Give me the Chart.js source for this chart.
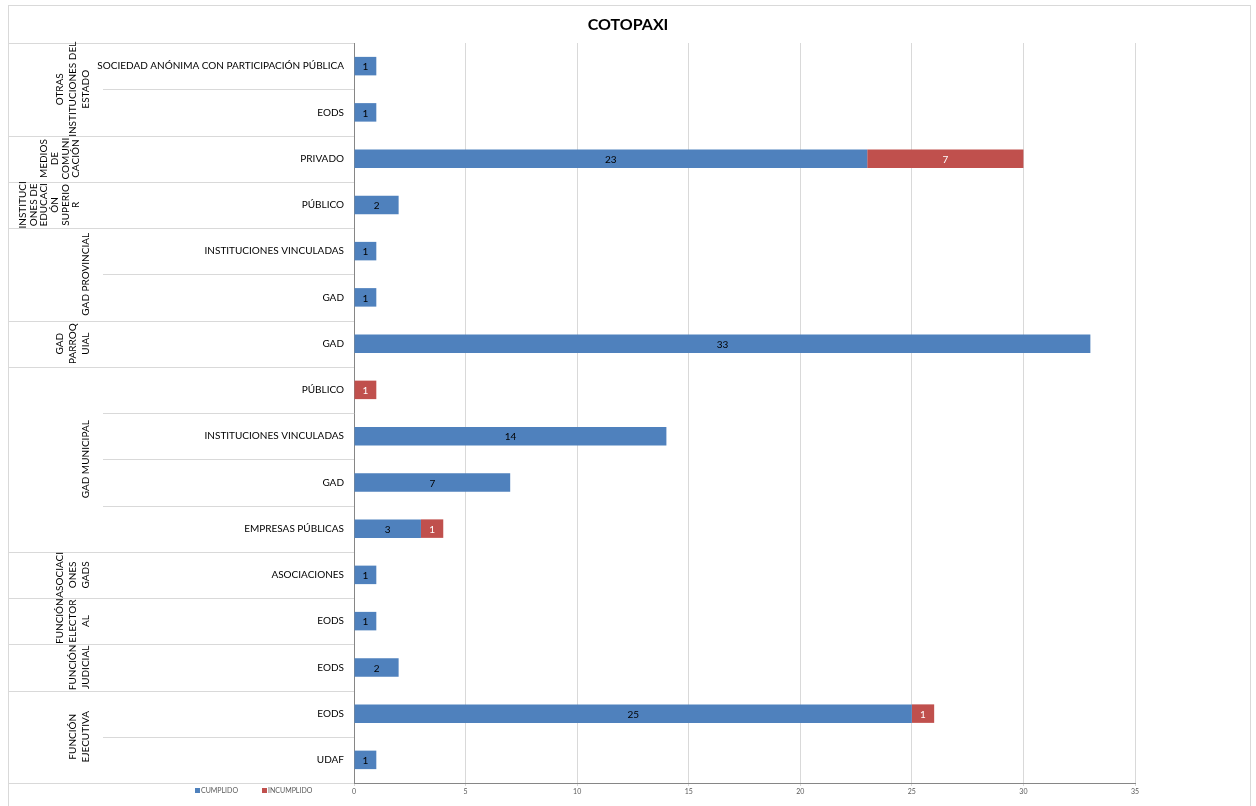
<!DOCTYPE html>
<html>
<head>
<meta charset="utf-8">
<script src="https://cdn.jsdelivr.net/npm/chart.js@4"></script>
<style>
  html, body { margin: 0; padding: 0; background: #fff; }
  #wrap { width: 1256px; height: 806px; }
</style>
</head>
<body>
<div id="wrap"><canvas id="chart" width="1256" height="806"></canvas></div>
<script>
// data, top row first
var groupOfRow = [
    'OTRAS\nINSTITUCIONES DEL\nESTADO', 'OTRAS\nINSTITUCIONES DEL\nESTADO',
    'MEDIOS\nDE\nCOMUNI\nCACIÓN',
    'INSTITUCI\nONES DE\nEDUCACI\nÓN\nSUPERIO\nR',
    'GAD PROVINCIAL', 'GAD PROVINCIAL',
    'GAD\nPARROQ\nUIAL',
    'GAD MUNICIPAL', 'GAD MUNICIPAL', 'GAD MUNICIPAL', 'GAD MUNICIPAL',
    'ASOCIACI\nONES\nGADS',
    'FUNCIÓN\nELECTOR\nAL',
    'FUNCIÓN\nJUDICIAL',
    'FUNCIÓN\nEJECUTIVA', 'FUNCIÓN\nEJECUTIVA'
];
var subcategories = [
    'SOCIEDAD ANÓNIMA CON PARTICIPACIÓN PÚBLICA', 'EODS',
    'PRIVADO',
    'PÚBLICO',
    'INSTITUCIONES VINCULADAS', 'GAD',
    'GAD',
    'PÚBLICO', 'INSTITUCIONES VINCULADAS', 'GAD', 'EMPRESAS PÚBLICAS',
    'ASOCIACIONES',
    'EODS',
    'EODS',
    'EODS', 'UDAF'
];
var cumplido   = [1, 1, 23, 2, 1, 1, 33, 0, 14, 7, 3, 1, 1, 2, 25, 1];
var incumplido = [0, 0,  7, 0, 0, 0,  0, 1,  0, 0, 1, 0, 0, 0,  1, 0];
var seriesNames = ['CUMPLIDO', 'INCUMPLIDO'];
var chartTitle = 'COTOPAXI';
var xMin = 0, xMax = 35, xStep = 5;

var BLUE = '#4F81BD';
var RED = '#C0504D';
var FONT = "Lato, 'Liberation Sans', Arial, sans-serif";

var frame = {
    id: 'frame',
    beforeDraw: function(chart) {
        var ctx = chart.ctx;
        ctx.save();
        ctx.fillStyle = '#fff';
        ctx.fillRect(0, 0, chart.width, chart.height);
        ctx.strokeStyle = '#d9d9d9';
        ctx.lineWidth = 1;
        ctx.strokeRect(8.5, 5.5, 1242, 830);
        // title centred on the whole frame
        ctx.fillStyle = '#000';
        ctx.font = 'bold 16px ' + FONT;
        ctx.textAlign = 'center';
        ctx.textBaseline = 'middle';
        ctx.fillText(chartTitle, 628, 25);
        ctx.restore();
    }
};

// multi-level category column on the left
var groupAxis = {
    id: 'groupAxis',
    afterDraw: function(chart) {
        var ctx = chart.ctx;
        var y = chart.scales.y;
        var area = chart.chartArea;
        var half = (y.getPixelForValue(1) - y.getPixelForValue(0)) / 2;
        ctx.save();
        ctx.strokeStyle = '#d9d9d9';
        ctx.lineWidth = 1;
        for (var i = 0; i <= groupOfRow.length; i++) {
            var yy = i < groupOfRow.length ? y.getPixelForValue(i) - half : y.getPixelForValue(i - 1) + half;
            var newGroup = i === 0 || i === groupOfRow.length || groupOfRow[i] !== groupOfRow[i - 1];
            var x0 = newGroup ? 8 : 103;
            yy = Math.round(yy) + 0.5;
            ctx.beginPath();
            ctx.moveTo(x0, yy);
            ctx.lineTo(area.left, yy);
            ctx.stroke();
        }
        // group names, rotated
        ctx.fillStyle = '#000';
        ctx.font = '10px ' + FONT;
        ctx.textAlign = 'center';
        ctx.textBaseline = 'middle';
        var start = 0;
        for (var j = 1; j <= groupOfRow.length; j++) {
            if (j === groupOfRow.length || groupOfRow[j] !== groupOfRow[start]) {
                var top = y.getPixelForValue(start) - half;
                var bottom = y.getPixelForValue(j - 1) + half;
                var cy = (top + bottom) / 2;
                var lines = groupOfRow[start].split('\n');
                var n = lines.length;
                var gap = n > 3 ? 10.6 : 13.3;
                var lastX = n > 3 ? 76 : 86;
                lines.forEach(function(line, k) {
                    ctx.save();
                    ctx.translate(lastX - (n - 1 - k) * gap, cy);
                    ctx.rotate(-Math.PI / 2);
                    ctx.fillText(line, 0, 0);
                    ctx.restore();
                });
                start = j;
            }
        }
        ctx.restore();
    }
};

var barValues = {
    id: 'barValues',
    afterDatasetsDraw: function(chart) {
        var ctx = chart.ctx;
        ctx.save();
        ctx.font = '10px ' + FONT;
        ctx.textAlign = 'center';
        ctx.textBaseline = 'middle';
        chart.data.datasets.forEach(function(ds, i) {
            ctx.fillStyle = i === 0 ? '#000' : '#fff';
            chart.getDatasetMeta(i).data.forEach(function(bar, k) {
                var v = ds.data[k];
                if (!v) return;
                ctx.fillText(String(v), (bar.x + bar.base) / 2, bar.y + 1);
            });
        });
        ctx.restore();
    }
};

var smallLegend = {
    id: 'smallLegend',
    afterDraw: function(chart) {
        var ctx = chart.ctx;
        var spots = [195, 262];
        ctx.save();
        ctx.font = '7px ' + FONT;
        ctx.textBaseline = 'middle';
        chart.data.datasets.forEach(function(ds, i) {
            ctx.fillStyle = ds.backgroundColor;
            ctx.fillRect(spots[i], 788, 5, 5);
            ctx.fillStyle = '#595959';
            ctx.fillText(ds.label, spots[i] + 6, 791);
        });
        ctx.restore();
    }
};

var ctxChart = document.getElementById('chart').getContext('2d');
var chart = new Chart(ctxChart, {
    type: 'bar',
    data: {
        labels: subcategories,
        datasets: [
            { label: seriesNames[0], data: cumplido, backgroundColor: BLUE, barPercentage: 0.4, categoryPercentage: 1 },
            { label: seriesNames[1], data: incumplido, backgroundColor: RED, barPercentage: 0.4, categoryPercentage: 1 }
        ]
    },
    options: {
        indexAxis: 'y',
        responsive: false,
        animation: false,
        layout: { padding: { left: 0, right: 121, top: 43, bottom: 0 } },
        plugins: {
            legend: { display: false },
            tooltip: { enabled: false },
            title: { display: false }
        },
        scales: {
            x: {
                stacked: true,
                min: xMin,
                max: xMax,
                ticks: { stepSize: xStep, color: '#595959', font: { size: 7, family: FONT }, padding: 2 },
                grid: { color: '#d9d9d9', tickLength: 3 },
                border: { color: '#868686' },
                afterFit: function(scale) { scale.height = 23; }
            },
            y: {
                stacked: true,
                ticks: { color: '#000', font: { size: 10, family: FONT }, padding: 10, autoSkip: false },
                grid: { display: false, drawTicks: false },
                border: { color: '#868686' },
                afterFit: function(scale) { scale.width = 354; }
            }
        }
    },
    plugins: [frame, groupAxis, barValues, smallLegend]
});
</script>
</body>
</html>
